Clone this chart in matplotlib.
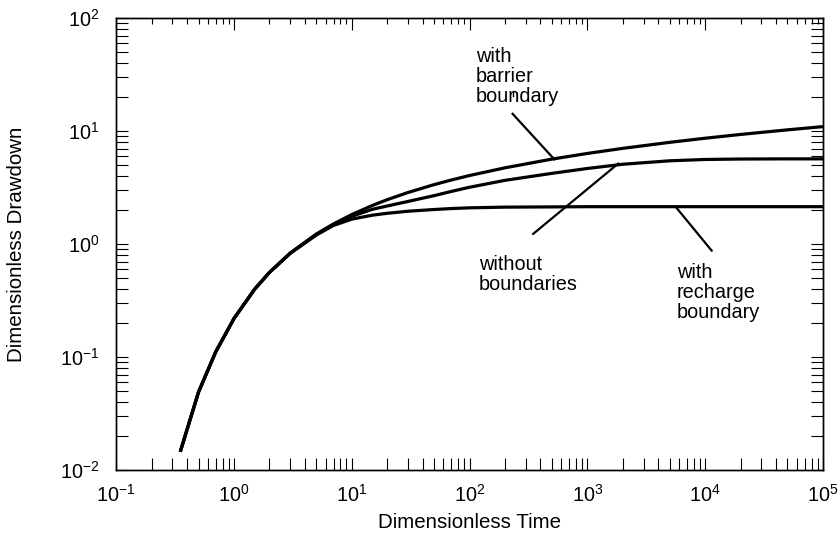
import matplotlib
matplotlib.use('Agg')
import matplotlib.pyplot as plt
import matplotlib.ticker as mticker
import numpy as np

# dimensionless time (x) and drawdown for the three cases
time_d = [0.35, 0.5, 0.7, 1, 1.5, 2, 3, 5, 7, 10, 15, 20, 30, 50, 70, 100,
          200, 500, 1e3, 2e3, 5e3, 1e4, 2e4, 5e4, 1e5]
s_barrier = [0.0145, 0.0489, 0.111, 0.219, 0.399, 0.560, 0.830, 1.223, 1.506,
             1.823, 2.196, 2.468, 2.857, 3.355, 3.685, 4.038, 4.726, 5.639,
             6.332, 7.024, 7.940, 8.633, 9.326, 10.24, 10.94]
s_without = [0.0145, 0.0489, 0.111, 0.219, 0.399, 0.560, 0.830, 1.22, 1.49,
             1.76, 2.03, 2.17, 2.38, 2.68, 2.92, 3.18, 3.66, 4.22, 4.66, 5.08,
             5.45, 5.60, 5.65, 5.67, 5.67]
s_recharge = [0.0145, 0.0489, 0.111, 0.219, 0.399, 0.560, 0.825, 1.20, 1.46,
              1.66, 1.80, 1.87, 1.95, 2.02, 2.06, 2.09, 2.12, 2.13, 2.14, 2.14,
              2.14, 2.14, 2.14, 2.14, 2.14]

# curve labels: text, text anchor, leader line start / end
labels = ['with\nbarrier\nboundary', 'without\nboundaries',
          'with\nrecharge\nboundary']
label_pos = [(113, 55), (120, 0.806), (5730, 0.684)]
leader_start = [(232, 14.2), (347, 1.23), (5650, 2.12)]
leader_end = [(524, 5.62), (1829, 5.15), (11350, 0.874)]

plt.rcParams['font.family'] = ['Liberation Sans', 'DejaVu Sans']
plt.rcParams['font.size'] = 14

fig = plt.figure(figsize=(8.4, 5.38), dpi=100)
ax = fig.add_axes([0.1383, 0.1264, 0.8414, 0.8401])

for s in (s_barrier, s_without, s_recharge):
    ax.plot(time_d, s, color='black', linewidth=2.3, solid_capstyle='butt')

ax.set_xscale('log')
ax.set_yscale('log')
ax.set_xlim(0.1, 1e5)
ax.set_ylim(0.01, 100)

# leader lines and labels
for txt, pos, p0, p1 in zip(labels, label_pos, leader_start, leader_end):
    ax.plot([p0[0], p1[0]], [p0[1], p1[1]], color='black', linewidth=1.6)
    ax.text(pos[0], pos[1], txt, ha='left', va='top', fontsize=14.3,
            linespacing=1.07)
# small stray piece of the barrier leader between the text lines
ax.plot([232, 232], [22.8, 20.4], color='black', linewidth=1.0)

# ticks: everything inward, all ticks long except top minors
ax.xaxis.set_major_locator(mticker.LogLocator(base=10, numticks=20))
ax.xaxis.set_minor_locator(mticker.LogLocator(base=10, subs=np.arange(2, 10),
                                              numticks=100))
ax.yaxis.set_major_locator(mticker.LogLocator(base=10, numticks=20))
ax.yaxis.set_minor_locator(mticker.LogLocator(base=10, subs=np.arange(2, 10),
                                              numticks=100))
ax.xaxis.set_minor_formatter(mticker.NullFormatter())
ax.yaxis.set_minor_formatter(mticker.NullFormatter())
ax.tick_params(which='both', direction='in', length=8.6, width=0.8,
               top=False, right=True, labelsize=14.3)
ax.tick_params(axis='x', which='major', pad=10)
ax.tick_params(axis='y', which='major', pad=12)

ax_top = ax.twiny()
ax_top.set_xscale('log')
ax_top.set_xlim(ax.get_xlim())
ax_top.xaxis.set_major_locator(mticker.LogLocator(base=10, numticks=20))
ax_top.xaxis.set_minor_locator(mticker.LogLocator(base=10,
                                                  subs=np.arange(2, 10),
                                                  numticks=100))
ax_top.xaxis.set_major_formatter(mticker.NullFormatter())
ax_top.xaxis.set_minor_formatter(mticker.NullFormatter())
ax_top.tick_params(which='major', direction='in', length=8.6, width=0.8,
                   labeltop=False)
ax_top.tick_params(which='minor', direction='in', length=4.3, width=0.8,
                   labeltop=False)

for a in (ax, ax_top):
    for sp in a.spines.values():
        sp.set_linewidth(1.0)

ax.set_xlabel('Dimensionless Time', fontsize=14.8)
ax.set_ylabel('Dimensionless Drawdown', fontsize=14.8)
ax.xaxis.set_label_coords(0.5, -0.095)
ax.yaxis.set_label_coords(-0.127, 0.5)

fig.savefig('out.png', dpi=100)
